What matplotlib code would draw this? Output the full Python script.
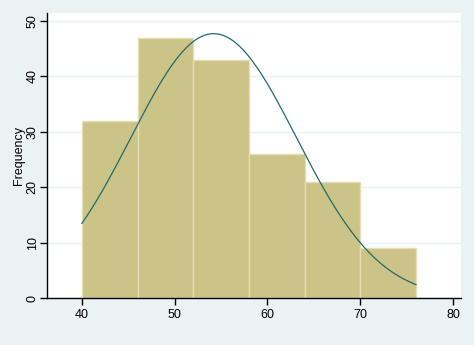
import numpy as np
import matplotlib
matplotlib.use("Agg")
import matplotlib.pyplot as plt

bin_edges = [40, 46, 52, 58, 64, 70, 76]
frequencies = [32, 47, 43, 26, 21, 9]
curve_mean = 54.2
curve_sd = 8.93
x_ticks = [40, 50, 60, 70, 80]
y_ticks = [0, 10, 20, 30, 40, 50]

plt.rcParams['font.family'] = ['Liberation Sans', 'DejaVu Sans']

bg = '#EAF2F3'
fig = plt.figure(figsize=(4.74, 3.45), dpi=100, facecolor=bg)
ax = fig.add_axes([0.0992, 0.1362, 0.8734, 0.8261])
ax.set_facecolor('white')

lefts = bin_edges[:-1]
widths = np.diff(bin_edges)
ax.bar(lefts, frequencies, width=widths, align='edge', color='#CCC386',
       edgecolor='#E4DEB4', linewidth=1.0, zorder=2)

n = sum(frequencies)
bw = widths[0]
xs = np.linspace(bin_edges[0], bin_edges[-1], 400)
ys = n * bw * np.exp(-0.5 * ((xs - curve_mean) / curve_sd) ** 2) / (curve_sd * np.sqrt(2 * np.pi))
ax.plot(xs, ys, color='#1F6B6B', linewidth=0.9, zorder=3)

ax.set_xlim(36.24, 80.86)
ax.set_ylim(0, 51.44)
ax.set_xticks(x_ticks)
ax.set_yticks(y_ticks)
ax.yaxis.grid(True, color=bg, linewidth=1.0, zorder=0)
ax.set_axisbelow(True)

for s in ['top', 'right']:
    ax.spines[s].set_visible(False)
for s in ['left', 'bottom']:
    ax.spines[s].set_color('black')
    ax.spines[s].set_linewidth(1.0)

ax.tick_params(axis='both', length=5, width=1.0, color='black', labelsize=9, pad=3)
ax.tick_params(axis='y', pad=1)
for lbl in ax.get_yticklabels():
    lbl.set_rotation(90)
    lbl.set_va('center')
ax.set_ylabel('Frequency', fontsize=9, labelpad=1)

fig.savefig('out.png', dpi=100, facecolor=bg)
